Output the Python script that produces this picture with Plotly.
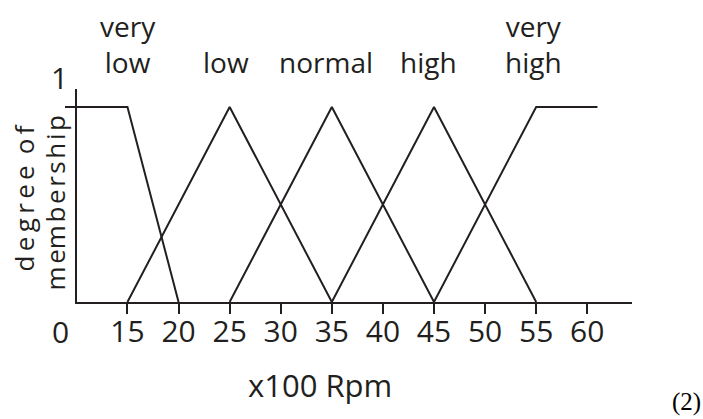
import plotly.graph_objects as go

# Membership functions for engine speed (x100 rpm)
sets = ["very low", "low", "normal", "high", "very high"]
very_low_x = [0, 15, 20]
very_low_y = [1, 1, 0]
low_x = [15, 25, 35]
low_y = [0, 1, 0]
normal_x = [25, 35, 45]
normal_y = [0, 1, 0]
high_x = [35, 45, 55]
high_y = [0, 1, 0]
very_high_x = [45, 55, 61]
very_high_y = [0, 1, 1]

set_labels = ["very<br>low", "low", "normal", "high", "very<br>high"]
label_x = [15.1, 24.65, 34.45, 44.45, 54.7]

tick_vals = [15, 20, 25, 30, 35, 40, 45, 50, 55, 60]
tick_text = [str(v) for v in tick_vals]

INK = "#231f20"
FONT = "Open Sans"

fig = go.Figure()
for xs, ys, name in zip(
    [very_low_x, low_x, normal_x, high_x, very_high_x],
    [very_low_y, low_y, normal_y, high_y, very_high_y],
    sets,
):
    fig.add_trace(go.Scatter(x=xs, y=ys, mode="lines", name=name,
                             line=dict(color=INK, width=2), showlegend=False,
                             hoverinfo="skip"))

fig.update_xaxes(
    range=[10.06, 64.38], showgrid=False, zeroline=False,
    showline=True, linecolor=INK, linewidth=2,
    tickmode="array", tickvals=tick_vals, ticktext=tick_text,
    ticks="outside", ticklen=10, tickwidth=1.5, tickcolor=INK,
    ticklabelstandoff=-8,
    tickfont=dict(family=FONT, size=30, color=INK),
)
fig.update_yaxes(
    range=[0, 1.092], showgrid=False, zeroline=False,
    showline=True, linecolor=INK, linewidth=2,
    tickmode="array", tickvals=[1], showticklabels=False,
    ticks="outside", ticklen=10, tickwidth=1.5, tickcolor=INK,
)

ann = []
for lx, lt in zip(label_x, set_labels):
    ann.append(dict(x=lx, xref="x", y=1, yref="paper", text=lt,
                    showarrow=False, xanchor="center", yanchor="bottom", yshift=6,
                    font=dict(family=FONT, size=28, color=INK)))
# origin and unit labels
ann.append(dict(x=0, xref="paper", y=0, yref="paper", text="0", showarrow=False,
                xanchor="center", xshift=-17, yshift=-29, yanchor="middle",
                font=dict(family=FONT, size=30, color=INK)))
ann.append(dict(x=0, xref="paper", y=1, yref="paper", text="1", showarrow=False,
                xanchor="center", xshift=-18, yshift=12, yanchor="middle",
                font=dict(family=FONT, size=30, color=INK)))
# axis titles
ann.append(dict(x=0.438, xref="paper", y=0, yref="paper", text="x100 Rpm",
                showarrow=False, xanchor="center", yshift=-83, yanchor="middle",
                font=dict(family=FONT, size=31, color=INK)))
ann.append(dict(x=0, xref="paper", y=0.486, yref="paper",
                text="d\u2006e\u2006g\u2006r\u2006e\u2006e\u2006 o\u2006f",
                textangle=-90, showarrow=False, xshift=-53, xanchor="center",
                font=dict(family=FONT, size=26, color=INK)))
ann.append(dict(x=0, xref="paper", y=0.467, yref="paper",
                text="m\u200aem\u200ab\u200ae\u200ar\u200as\u200ah\u200ai\u200ap",
                textangle=-90, showarrow=False, xshift=-22, xanchor="center",
                font=dict(family=FONT, size=26, color=INK)))
# equation number
ann.append(dict(x=1.098, xref="paper", y=-0.469, yref="paper", text="(2)",
                showarrow=False, xanchor="center", yanchor="middle",
                font=dict(family="Liberation Serif", size=25, color="#000000")))

fig.update_layout(
    width=703, height=419,
    margin=dict(l=77, r=71, t=89, b=117),
    paper_bgcolor="white", plot_bgcolor="white",
    annotations=ann,
)

fig.write_html("out.html")
